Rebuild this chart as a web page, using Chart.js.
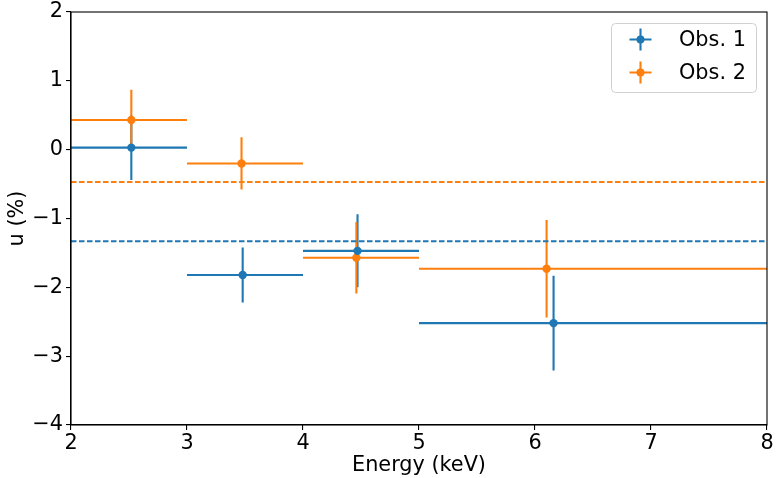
<!DOCTYPE html>
<html>
<head>
<meta charset="utf-8">
<script src="https://cdn.jsdelivr.net/npm/chart.js@4"></script>
<style>
html,body{margin:0;padding:0;background:#fff;}
#wrap{width:781px;height:478px;}
</style>
</head>
<body>
<div id="wrap"><canvas id="c" width="781" height="478"></canvas></div>
<script>
// ---- data ----
const seriesNames = ['Obs. 1', 'Obs. 2'];
const seriesColors = ['#1f77b4', '#ff7f0e'];
const obs1X = [2.52, 3.48, 4.47, 6.16];
const obs1Y = [0.03, -1.82, -1.47, -2.52];
const obs1YErr = [0.47, 0.40, 0.53, 0.69];
const obs2X = [2.52, 3.47, 4.46, 6.10];
const obs2Y = [0.43, -0.20, -1.57, -1.73];
const obs2YErr = [0.44, 0.38, 0.52, 0.71];
const binLo = [2, 3, 4, 5];
const binHi = [3, 4, 5, 8];
const meanLevels = [-1.33, -0.47];
const xTicks = [2, 3, 4, 5, 6, 7, 8];
const yTicks = [-4, -3, -2, -1, 0, 1, 2];

const FONT = 'DejaVu Sans';
const FS = 20.8;

function pts(xs, ys) { return xs.map((x, i) => ({x: x, y: ys[i]})); }
const errSets = [
  {xs: obs1X, ys: obs1Y, ye: obs1YErr, color: seriesColors[0]},
  {xs: obs2X, ys: obs2Y, ye: obs2YErr, color: seriesColors[1]}
];

const errorBarPlugin = {
  id: 'errbars',
  beforeDatasetsDraw(chart) {
    const ctx = chart.ctx, xs = chart.scales.x, ys = chart.scales.y;
    const a = chart.chartArea;
    ctx.save();
    ctx.beginPath();
    ctx.rect(a.left, a.top, a.right - a.left, a.bottom - a.top);
    ctx.clip();
    ctx.lineWidth = 2.1;
    ctx.lineCap = 'butt';
    errSets.forEach(s => {
      ctx.strokeStyle = s.color;
      s.xs.forEach((x, i) => {
        const px = xs.getPixelForValue(x);
        const py = ys.getPixelForValue(s.ys[i]);
        ctx.beginPath();
        ctx.moveTo(xs.getPixelForValue(binLo[i]), py);
        ctx.lineTo(xs.getPixelForValue(binHi[i]), py);
        ctx.moveTo(px, ys.getPixelForValue(s.ys[i] + s.ye[i]));
        ctx.lineTo(px, ys.getPixelForValue(s.ys[i] - s.ye[i]));
        ctx.stroke();
      });
    });
    ctx.restore();
  }
};

const framePlugin = {
  id: 'frame',
  afterDraw(chart) {
    const ctx = chart.ctx, a = chart.chartArea;
    ctx.save();
    ctx.strokeStyle = '#000';
    ctx.lineWidth = 1.1;
    ctx.strokeRect(a.left, a.top, a.right - a.left, a.bottom - a.top);
    // legend
    const bx = 611, by = 23, bw = 145, bh = 69, r = 4;
    ctx.fillStyle = 'rgba(255,255,255,0.8)';
    ctx.strokeStyle = '#d0d0d0';
    ctx.lineWidth = 1;
    ctx.beginPath();
    ctx.roundRect(bx + 0.5, by + 0.5, bw, bh, r);
    ctx.fill();
    ctx.stroke();
    seriesNames.forEach((name, i) => {
      const cy = 39.5 + i * 33;
      const cx = 640.5;
      ctx.strokeStyle = seriesColors[i];
      ctx.fillStyle = seriesColors[i];
      ctx.lineWidth = 2.1;
      ctx.beginPath();
      ctx.moveTo(cx - 11, cy); ctx.lineTo(cx + 11, cy);
      ctx.moveTo(cx, cy - 11); ctx.lineTo(cx, cy + 11);
      ctx.stroke();
      ctx.beginPath();
      ctx.arc(cx, cy, 4, 0, Math.PI * 2);
      ctx.fill();
      ctx.fillStyle = '#000';
      ctx.font = FS + 'px "' + FONT + '"';
      ctx.textBaseline = 'middle';
      ctx.textAlign = 'left';
      ctx.fillText(name, 679, cy + 1);
    });
    ctx.restore();
  }
};

const fmt = v => (v < 0 ? '\u2212' + Math.abs(v) : String(v));

new Chart(document.getElementById('c'), {
  type: 'scatter',
  data: {
    datasets: [
      {type: 'line', data: [{x: 2, y: meanLevels[0]}, {x: 8, y: meanLevels[0]}], borderColor: seriesColors[0], borderWidth: 2, borderDash: [5.5, 2.5], pointRadius: 0, fill: false},
      {type: 'line', data: [{x: 2, y: meanLevels[1]}, {x: 8, y: meanLevels[1]}], borderColor: seriesColors[1], borderWidth: 2, borderDash: [5.5, 2.5], pointRadius: 0, fill: false},
      {label: seriesNames[0], data: pts(obs1X, obs1Y), backgroundColor: seriesColors[0], borderColor: seriesColors[0], pointRadius: 4.2, borderWidth: 0},
      {label: seriesNames[1], data: pts(obs2X, obs2Y), backgroundColor: seriesColors[1], borderColor: seriesColors[1], pointRadius: 4.2, borderWidth: 0}
    ]
  },
  options: {
    responsive: false,
    animation: false,
    devicePixelRatio: 1,
    layout: {padding: {top: 12, right: 14, left: 0, bottom: 0}},
    plugins: {legend: {display: false}, tooltip: {enabled: false}},
    scales: {
      x: {
        type: 'linear', min: 2, max: 8,
        afterFit(s) { s.height = 53; s.paddingLeft = 0; s.paddingRight = 0; },
        afterBuildTicks(s) { s.ticks = xTicks.map(v => ({value: v})); },
        ticks: {callback: fmt, color: '#000', font: {family: FONT, size: FS}, padding: 1, maxRotation: 0, autoSkip: false},
        grid: {drawOnChartArea: false, drawTicks: true, tickLength: 5, color: '#000', lineWidth: 1.1},
        border: {color: '#000', width: 1.1},
        title: {display: true, text: 'Energy (keV)', color: '#000', font: {family: FONT, size: FS, lineHeight: 1.2}, padding: {top: 0, bottom: 0}}
      },
      y: {
        type: 'linear', min: -4, max: 2,
        afterFit(s) { s.width = 71; s.paddingTop = 0; s.paddingBottom = 0; },
        afterBuildTicks(s) { s.ticks = yTicks.map(v => ({value: v})); },
        ticks: {callback: fmt, color: '#000', font: {family: FONT, size: FS}, padding: 3, autoSkip: false},
        grid: {drawOnChartArea: false, drawTicks: true, tickLength: 5, color: '#000', lineWidth: 1.1},
        border: {color: '#000', width: 1.1},
        title: {display: true, text: 'u (%)', color: '#000', font: {family: FONT, size: FS, lineHeight: 1.2}, padding: {top: 5, bottom: 0}}
      }
    }
  },
  plugins: [errorBarPlugin, framePlugin]
});
</script>
</body>
</html>
